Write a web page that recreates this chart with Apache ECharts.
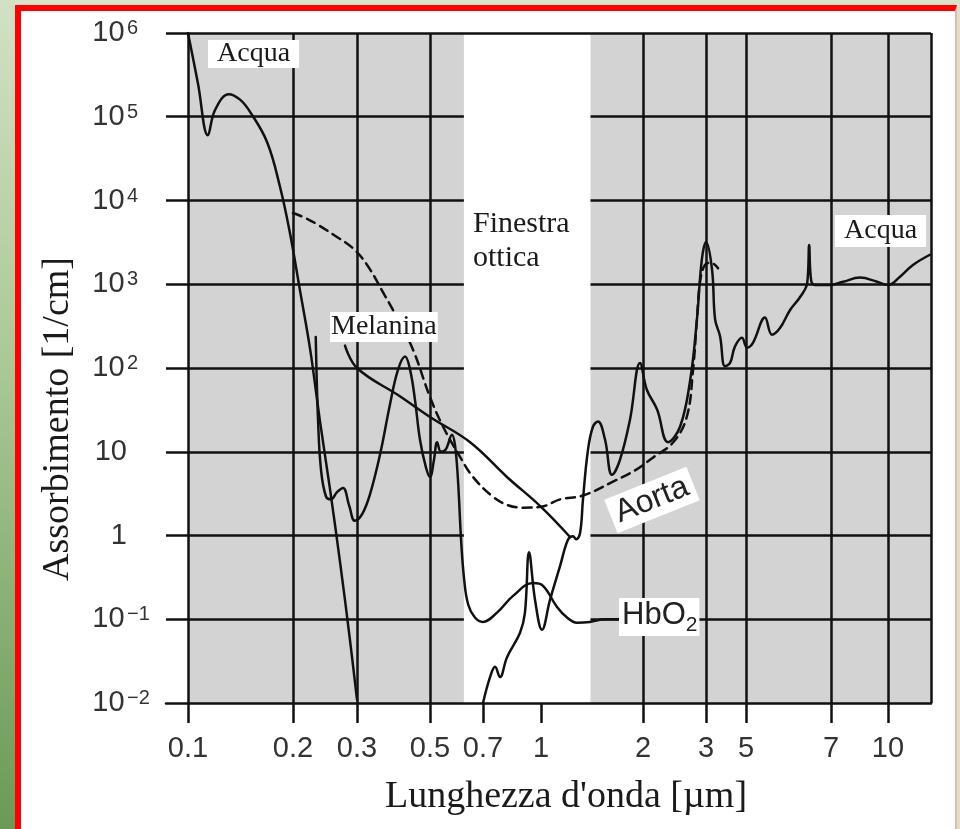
<!DOCTYPE html>
<html>
<head>
<meta charset="utf-8">
<script src="https://cdn.jsdelivr.net/npm/echarts@6/dist/echarts.min.js"></script>
<style>
  html, body { margin: 0; width: 960px; height: 829px; overflow: hidden; background: #d7e4ca; }
  #strip { position: absolute; left: 0; top: 0; width: 15px; height: 829px;
           background: linear-gradient(#d2e1c4, #a9c893 45%, #6a9a55); }
  #frame { position: absolute; left: 15px; top: 5px; width: 942px; height: 824px; box-sizing: border-box;
           border-left: 6px solid #f00; border-top: 6px solid #f00; border-right: 2px solid #f3b0b0; background: #fff; }
  #chart { position: absolute; left: 0; top: 0; width: 960px; height: 829px; }
</style>
</head>
<body>
<div id="strip"></div>
<div id="frame"></div>
<div id="chart"></div>
<script>
// asse x: etichette e loro posizione (scala non uniforme della figura)
var tickVals = [0.1, 0.2, 0.3, 0.5, 0.7, 1, 2, 3, 5, 7, 10];
var tickPos = [22, 127, 191, 264, 317, 375, 477, 540, 580, 665, 722];
var xEnd = 765;
// asse y: decadi
var yTicks = [0.01, 0.1, 1, 10, 100, 1e3, 1e4, 1e5, 1e6];
// finestra ottica [um]
var finestra = [0.62, 1.4];

// curve [lunghezza d'onda um, assorbimento 1/cm]
var acqua = [
    [0.1, 1e6], [0.1068, 2.5e5], [0.114, 6e4], [0.1195, 1.2e5], [0.131, 1.86e5], [0.141, 1.6e5],
    [0.1505, 1.15e5], [0.1685, 5e4], [0.1836, 1.45e4], [0.196, 4100], [0.209, 850], [0.223, 166],
    [0.237, 24], [0.253, 3.5], [0.27, 0.45], [0.287, 0.056], [0.3, 0.011], null,
    [0.7, 0.01], [0.731, 0.0204], [0.754, 0.027], [0.777, 0.0204], [0.811, 0.035], [0.879, 0.069],
    [0.906, 0.12], [0.929, 0.63], [0.964, 0.17], [1.007, 0.075], [1.063, 0.17], [1.138, 0.43],
    [1.201, 0.89], [1.243, 0.98], [1.269, 0.9], [1.304, 1.07], [1.33, 2.7], [1.376, 10.5],
    [1.424, 20], [1.473, 23], [1.545, 14], [1.62, 5.3], [1.71, 8], [1.83, 24], [1.96, 115],
    [2.05, 55], [2.19, 32], [2.35, 13], [2.54, 20], [2.71, 72], [2.83, 380], [2.92, 1950],
    [3.0, 3200], [3.24, 1500], [3.37, 380], [3.59, 240], [3.82, 105], [4.08, 115], [4.34, 180],
    [4.75, 230], [5.02, 175], [5.14, 200], [5.39, 400], [5.54, 250], [5.72, 300], [5.95, 490],
    [6.19, 700], [6.37, 1030], [6.42, 2950], [6.47, 1120], [6.57, 980], [6.97, 980], [7.55, 1070],
    [8.39, 1200], [9.34, 1070], [10, 980], [10.78, 1230], [11.69, 1700], [13.0, 2250]
];
var aorta = [
    [0.2, 7100], [0.216, 6200], [0.233, 5200], [0.261, 3800], [0.292, 2700], [0.322, 1700],
    [0.36, 800], [0.397, 400], [0.444, 165], [0.5, 45], [0.543, 20], [0.605, 8.7], [0.657, 5.0],
    [0.744, 2.9], [0.816, 2.3], [0.895, 2.15], [1.0, 2.2], [1.138, 2.7], [1.33, 3.0], [1.631, 4.4],
    [1.895, 6.0], [2.13, 8.5], [2.43, 13], [2.65, 26], [2.76, 95], [2.83, 380], [2.89, 1100],
    [2.98, 1700], [3.2, 1800], [3.5, 1550]
];
var melanina = [
    [0.278, 185], [0.3, 100], [0.405, 46], [0.5, 26], [0.645, 13], [0.811, 5.0], [1.0, 2.2], [1.218, 0.96]
];
var hbo2 = [
    [0.231, 235], [0.2344, 24], [0.2388, 6.1], [0.2466, 2.9], [0.2545, 2.7], [0.2643, 3.3],
    [0.2746, 3.7], [0.2853, 2.3], [0.296, 1.5], [0.311, 1.8], [0.3285, 3.1], [0.3525, 9.3],
    [0.378, 37], [0.3996, 95], [0.42, 137], [0.435, 95], [0.45, 42], [0.466, 14], [0.486, 6.5],
    [0.5, 5.0], [0.513, 8.1], [0.523, 13], [0.536, 10], [0.553, 10.7], [0.575, 16], [0.586, 12],
    [0.597, 4.7], [0.609, 0.9], [0.621, 0.3], [0.637, 0.15], [0.665, 0.105], [0.7, 0.093],
    [0.763, 0.12], [0.842, 0.19], [0.952, 0.27], [1.014, 0.25], [1.115, 0.14], [1.193, 0.105],
    [1.277, 0.091], [1.395, 0.093], [1.545, 0.1], [1.69, 0.1]
];

// lunghezza d'onda -> posizione sull'asse (log a tratti tra le tacche)
function xpos(l) {
    var n = tickVals.length;
    var i = 0;
    while (i < n - 2 && l > tickVals[i + 1]) i++;
    var t = Math.log(l / tickVals[i]) / Math.log(tickVals[i + 1] / tickVals[i]);
    return tickPos[i] + t * (tickPos[i + 1] - tickPos[i]);
}
function conv(arr) {
    return arr.map(function (p) {
        return p ? [xpos(p[0]), p[1]] : [xpos(0.45), '-'];
    });
}

var ink = '#111';
var serif = '"Liberation Serif", "Times New Roman", serif';
var sans = '"Liberation Sans", Arial, sans-serif';

var myChart = echarts.init(document.getElementById('chart'));

// linee della griglia solo nelle zone grigie
var gridLines = [];
tickVals.forEach(function (v, i) {
    if (v < finestra[0] || v > finestra[1]) gridLines.push({ xAxis: tickPos[i] });
});
gridLines.push({ xAxis: xEnd });
yTicks.forEach(function (v) {
    if (v === 0.01) return;
    if (v === 1e6) {
        gridLines.push([{ coord: [0, v] }, { coord: [xEnd, v] }]);
        return;
    }
    gridLines.push([{ coord: [0, v] }, { coord: [xpos(finestra[0]), v] }]);
    gridLines.push([{ coord: [xpos(finestra[1]), v] }, { coord: [xEnd, v] }]);
});

function curve(name, data, dashed) {
    return {
        name: name,
        type: 'line',
        data: conv(data),
        showSymbol: false,
        symbol: 'none',
        smooth: 0.4,
        silent: true,
        z: 5,
        lineStyle: { color: ink, width: 2.5, type: dashed ? [9, 6] : 'solid', cap: 'round', join: 'round' }
    };
}

var option = {
    animation: false,
    grid: { left: 166, top: 33, width: 765, height: 670, outerBoundsMode: 'none' },
    xAxis: {
        type: 'value',
        min: 0,
        max: xEnd,
        z: 10,
        splitLine: { show: false },
        axisLine: { lineStyle: { color: ink, width: 2.5 } },
        axisTick: { customValues: tickPos, length: 20, lineStyle: { color: ink, width: 2.5 } },
        axisLabel: {
            customValues: tickPos,
            margin: 31,
            fontSize: 29,
            fontFamily: sans,
            color: '#333',
            formatter: function (v) {
                var i = tickPos.indexOf(v);
                return i >= 0 ? String(tickVals[i]) : '';
            }
        }
    },
    yAxis: {
        type: 'log',
        logBase: 10,
        min: 0.01,
        max: 1e6,
        splitLine: { show: false },
        axisLine: { show: false },
        axisTick: { show: false },
        axisLabel: {
            customValues: yTicks,
            align: 'left',
            margin: 76,
            formatter: function (v) {
                var e = Math.round(Math.log10(v));
                if (e === 0) return '{b|1}';
                if (e === 1) return '{b|10}';
                return '{b|10}{s|' + (e < 0 ? '\u2212' + (-e) : e) + '}';
            },
            rich: {
                b: { fontSize: 29, fontFamily: sans, color: '#333', width: 37, align: 'right',
                     verticalAlign: 'bottom', lineHeight: 29 },
                s: { fontSize: 20, fontFamily: sans, color: '#333', verticalAlign: 'top',
                     lineHeight: 20, padding: [0, 0, 12, 0] }
            }
        }
    },
    series: [
        {
            type: 'line', data: [], z: 1, silent: true,
            markArea: {
                silent: true,
                itemStyle: { color: '#d3d3d3' },
                data: [
                    [{ coord: [tickPos[0], 0.01] }, { coord: [xpos(finestra[0]), 1e6] }],
                    [{ coord: [xpos(finestra[1]), 0.01] }, { coord: [xEnd, 1e6] }]
                ]
            }
        },
        {
            type: 'line', data: [], z: 2, silent: true,
            markLine: {
                silent: true,
                symbol: ['none', 'none'],
                label: { show: false },
                lineStyle: { color: ink, width: 2.5, type: 'solid' },
                data: gridLines
            }
        },
        curve('Acqua', acqua),
        curve('Aorta', aorta, true),
        curve('Melanina', melanina),
        curve('HbO2', hbo2)
    ],
    graphic: [
        { type: 'text', x: 58, y: 419, rotation: Math.PI / 2, z: 100,
          style: { text: 'Assorbimento [1/cm]', font: '38px ' + serif, fill: '#1a1a1a', align: 'center', verticalAlign: 'middle' } },
        { type: 'text', x: 566, y: 797, z: 100,
          style: { text: 'Lunghezza d\'onda [\u00b5m]', font: '38px ' + serif, fill: '#1a1a1a', align: 'center', verticalAlign: 'middle' } },
        { type: 'text', x: 208, y: 40, z: 100,
          style: { text: 'Acqua', font: '28px ' + serif, fill: '#1a1a1a', backgroundColor: '#fff', padding: [0, 9] } },
        { type: 'text', x: 835, y: 215, z: 100,
          style: { text: 'Acqua', font: '28px ' + serif, fill: '#1a1a1a', backgroundColor: '#fff', padding: [2, 9] } },
        { type: 'text', x: 330, y: 312, z: 100,
          style: { text: 'Melanina', font: '28px ' + serif, fill: '#1a1a1a', backgroundColor: '#fff', padding: [1, 1] } },
        { type: 'text', x: 473, y: 207, z: 100,
          style: { text: 'Finestra\nottica', font: '30px ' + serif, fill: '#1a1a1a', lineHeight: 34 } },
        { type: 'text', x: 652, y: 500, rotation: 0.38, z: 100,
          style: { text: 'Aorta', font: '32px ' + sans, fill: '#222', backgroundColor: '#fff', padding: [2, 6],
                   align: 'center', verticalAlign: 'middle' } },
        { type: 'text', x: 619, y: 598, z: 100,
          style: {
              text: '{m|HbO}{s|2}', backgroundColor: '#fff', padding: [2, 2, 0, 3],
              rich: {
                  m: { fontSize: 31, fontFamily: sans, fill: '#222', verticalAlign: 'top', lineHeight: 36 },
                  s: { fontSize: 21, fontFamily: sans, fill: '#222', verticalAlign: 'bottom', lineHeight: 21, padding: [10, 0, 0, 0] }
              }
          } }
    ]
};

myChart.setOption(option);
window.addEventListener('resize', function () {
    myChart.resize();
});
</script>
</body>
</html>
